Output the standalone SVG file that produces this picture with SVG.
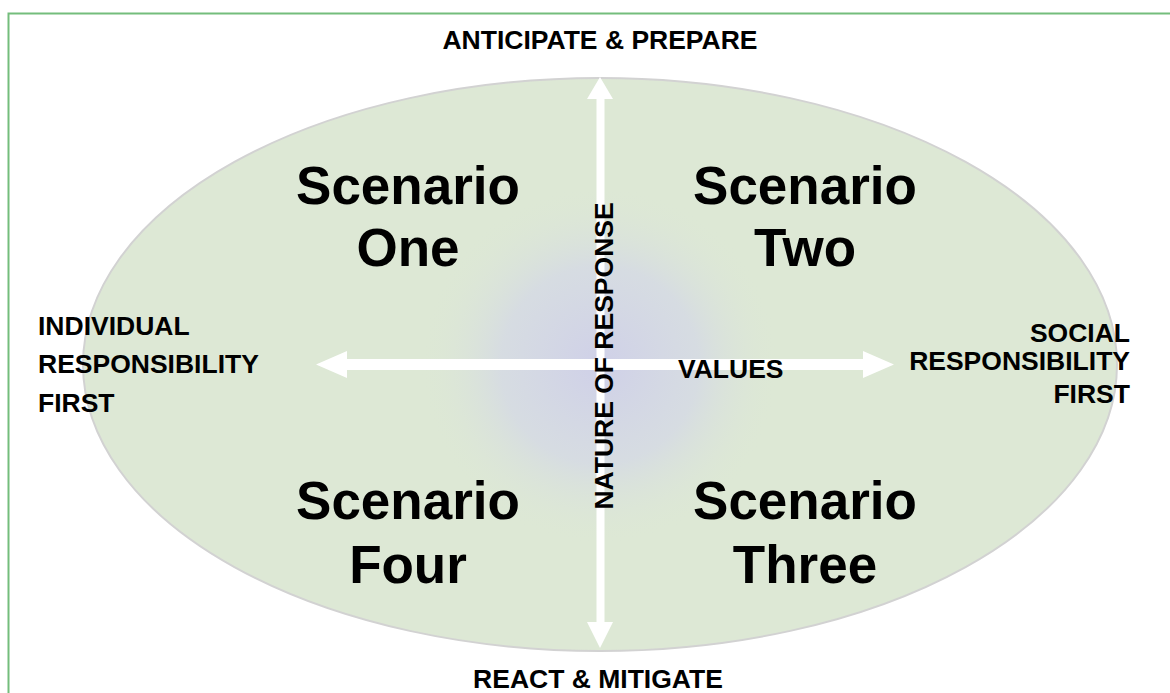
<svg xmlns="http://www.w3.org/2000/svg" width="1170" height="693" viewBox="0 0 1170 693">
<style>
.lbl{font-family:"Liberation Sans",Arial,sans-serif;font-weight:bold;font-size:26.5px;fill:#000}
.big{font-family:"Liberation Sans",Arial,sans-serif;font-weight:bold;font-size:53px;fill:#000;text-anchor:middle}
.arrow{fill:#fff;stroke:none}
</style>
<defs>
<radialGradient id="glow" cx="600" cy="365" r="180" gradientUnits="userSpaceOnUse">
<stop offset="0" stop-color="#cfd0e8" stop-opacity="1"/>
<stop offset="0.55" stop-color="#d4d8e6" stop-opacity="0.75"/>
<stop offset="1" stop-color="#dde8d5" stop-opacity="0"/>
</radialGradient>
</defs>
<rect width="1170" height="693" fill="#fff"/>
<g id="frame">
<path d="M8.5 693 V13.5 H1170" fill="none" stroke="#74bd7c" stroke-width="2"/>
</g>
<g id="ellipse">
<ellipse cx="600" cy="364.5" rx="517" ry="286.5" fill="#dde8d5" stroke="#d2d2d2" stroke-width="2"/>
<circle cx="600" cy="365" r="180" fill="url(#glow)"/>
</g>
<g id="connectors">
<polygon class="arrow" points="600,77 613,99 604.5,99 604.5,622 613,622 600,648 587,622 596.5,622 596.5,99 587,99"/>
<polygon class="arrow" points="316,364.5 347,351 347,359 863,359 863,351 894,364.5 863,378 863,370 347,370 347,378"/>
</g>
<g id="anticipate"><text class="lbl" x="600" y="49" text-anchor="middle">ANTICIPATE &amp; PREPARE</text></g>
<g id="react"><text class="lbl" x="598" y="688" text-anchor="middle">REACT &amp; MITIGATE</text></g>
<g id="individual">
<text class="lbl" x="38" y="335">INDIVIDUAL</text>
<text class="lbl" x="38" y="373">RESPONSIBILITY</text>
<text class="lbl" x="38" y="412">FIRST</text>
</g>
<g id="social">
<text class="lbl" x="1130" y="342" text-anchor="end">SOCIAL</text>
<text class="lbl" x="1130" y="370" text-anchor="end">RESPONSIBILITY</text>
<text class="lbl" x="1130" y="403" text-anchor="end">FIRST</text>
</g>
<g id="values"><text class="lbl" x="678" y="378">VALUES</text></g>
<g id="nature"><text class="lbl" transform="translate(613,356) rotate(-90)" x="0" y="0" text-anchor="middle">NATURE OF RESPONSE</text></g>
<g id="scenario-one">
<text class="big" x="408" y="204">Scenario</text>
<text class="big" x="408" y="266">One</text>
</g>
<g id="scenario-two">
<text class="big" x="805" y="204">Scenario</text>
<text class="big" x="805" y="266">Two</text>
</g>
<g id="scenario-four">
<text class="big" x="408" y="519">Scenario</text>
<text class="big" x="408" y="583">Four</text>
</g>
<g id="scenario-three">
<text class="big" x="805" y="519">Scenario</text>
<text class="big" x="805" y="583">Three</text>
</g>
</svg>
